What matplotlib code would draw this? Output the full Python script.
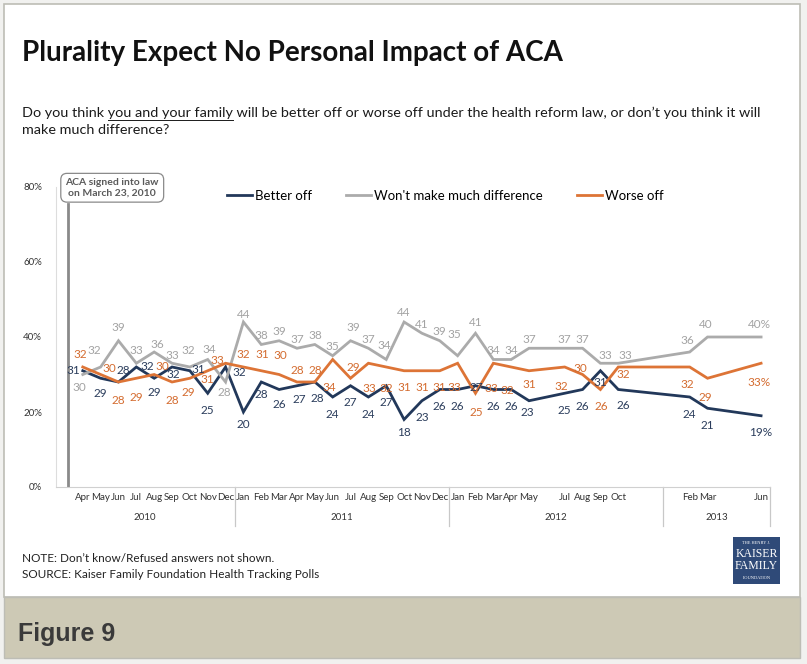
import matplotlib
matplotlib.use("Agg")
import matplotlib.pyplot as plt
from matplotlib.lines import Line2D
from matplotlib.patches import Rectangle
import matplotlib.transforms as mtransforms

plt.rcParams['font.family'] = ['Lato', 'DejaVu Sans']

# categories: Mar 2010 .. Jun 2013 (blank label = no poll that month)
months = ['',
          'Apr', 'May', 'Jun', 'Jul', 'Aug', 'Sep', 'Oct', 'Nov', 'Dec',
          'Jan', 'Feb', 'Mar', 'Apr', 'May', 'Jun', 'Jul', 'Aug', 'Sep', 'Oct', 'Nov', 'Dec',
          'Jan', 'Feb', 'Mar', 'Apr', 'May', '', 'Jul', 'Aug', 'Sep', 'Oct', '', '',
          '', 'Feb', 'Mar', '', '', 'Jun']
years = ['2010', '2011', '2012', '2013']
year_size = [10, 12, 12, 6]

N = None
better = [N,
          31, 29, 28, 32, 29, 32, 31, 25, 32,
          20, 28, 26, 27, 28, 24, 27, 24, 27, 18, 23, 26,
          26, 27, 26, 26, 23, N, 25, 26, 31, 26, N, N,
          N, 24, 21, N, N, 19]
wont = [N,
        30, 32, 39, 33, 36, 33, 32, 34, 28,
        44, 38, 39, 37, 38, 35, 39, 37, 34, 44, 41, 39,
        35, 41, 34, 34, 37, N, 37, 37, 33, 33, N, N,
        N, 36, 40, N, N, 40]
worse = [N,
         32, 30, 28, 29, 30, 28, 29, 31, 33,
         32, 31, 30, 28, 28, 34, 29, 33, 32, 31, 31, 31,
         33, 25, 33, 32, 31, N, 32, 30, 26, 32, N, N,
         N, 32, 29, N, N, 33]

NAVY = '#22385a'
GRAY = '#ababab'
ORANGE = '#dd7436'

# label offsets in pixels: default per series, plus a few tweaks by index
series = [
    ('Better off', better, NAVY, '#2b3d5c', (0, -17),
     {1: (-9, 0), 2: (0, -15), 3: (5, 12), 4: (11, 0), 5: (0, -14), 6: (1, -8), 7: (8, 1),
      9: (14, -5), 10: (0, -13), 11: (0, -13), 12: (0, -15), 13: (2, -14), 14: (2, -16),
      19: (0, -13), 23: (1, -2), 26: (-2, -12), 30: (0, -12), 31: (5, -16)}),
    ("Won't make much difference", wont, GRAY, '#a3a3a3', (0, 9),
     {1: (-3, -13), 2: (-6, 17), 3: (0, 13), 4: (0, 13), 5: (3, 7), 6: (0, 8), 7: (-2, 17),
      8: (2, 10), 9: (-1, -11), 10: (0, 7), 16: (3, 13), 18: (-2, 14), 22: (-3, 21),
      23: (0, 11), 30: (5, 8), 31: (7, 8), 35: (-2, 12), 36: (-2, 12), 39: (-2, 12)}),
    ('Worse off', worse, ORANGE, '#d46c30', (0, -17),
     {1: (-3, 12), 2: (9, 6), 3: (0, -18), 4: (0, -19), 5: (8, 8), 6: (0, -18), 7: (-2, -14),
      8: (0, -9), 9: (-8, 3), 10: (0, 12), 11: (1, 16), 12: (1, 19), 13: (0, 12), 14: (0, 12),
      15: (-3, -28), 16: (3, 11), 17: (1, -25), 18: (0, -21), 22: (-3, -24), 23: (1, -19),
      24: (-2, -25), 25: (-4, -23), 26: (0, -14), 28: (-3, -20), 29: (-2, 6), 30: (1, -17),
      31: (5, -8), 35: (-2, -18), 36: (-2, -19), 39: (-2, -19)}),
]

fig = plt.figure(figsize=(8.07, 6.64), dpi=100)
W, H = 807, 664

# frame and "Figure 9" band
fig.patches.append(Rectangle((0, 0), 1, 1, transform=fig.transFigure, facecolor='#f1f1ef', edgecolor='none', zorder=-10))
fig.patches.append(Rectangle((4 / W, 1 - 597 / H), 796 / W, 593 / H, transform=fig.transFigure,
                             facecolor='white', edgecolor='#bdbdb5', lw=1.2, zorder=-9))
fig.patches.append(Rectangle((4 / W, 1 - 658 / H), 796 / W, 61 / H, transform=fig.transFigure,
                             facecolor='#cdc9b5', edgecolor='#bdbdb5', lw=1, zorder=-9))
fig.text(18 / W, 1 - 641 / H, 'Figure 9', fontsize=18, fontweight='bold', color='#3a3a3a',
         family=['Liberation Sans', 'DejaVu Sans'], va='baseline')

renderer = fig.canvas.get_renderer()

def text_width(s, **kw):
    t = fig.text(0, 0, s, **kw)
    w = t.get_window_extent(renderer).width
    t.remove()
    return w

fig.text(22 / W, 1 - 61 / H, 'Plurality Expect No Personal Impact of ACA', fontsize=20,
         fontweight='bold', color='#111111', va='baseline')

sub_kw = dict(fontsize=10.4, color='#1a1a1a')
line1 = "Do you think you and your family will be better off or worse off under the health reform law, or don\u2019t you think it will"
fig.text(22 / W, 1 - 117 / H, line1, va='baseline', **sub_kw)
fig.text(22 / W, 1 - 134 / H, 'make much difference?', va='baseline', **sub_kw)
u0 = text_width('Do you think y', **sub_kw) - text_width('y', **sub_kw)
u1 = u0 + text_width('you and your family', **sub_kw)
fig.add_artist(Line2D([(22 + u0) / W, (22 + u1) / W], [1 - 120 / H, 1 - 120 / H],
                      transform=fig.transFigure, color='#1a1a1a', lw=0.7))

note_kw = dict(fontsize=8.5, color='#222222', va='baseline')
fig.text(22 / W, 1 - 562 / H, 'NOTE: Don\u2019t know/Refused answers not shown.', **note_kw)
fig.text(22 / W, 1 - 578 / H, 'SOURCE: Kaiser Family Foundation Health Tracking Polls', **note_kw)

# logo
fig.patches.append(Rectangle((733 / W, 1 - 584 / H), 47 / W, 47 / H, transform=fig.transFigure,
                             facecolor='#2f4a78', edgecolor='none'))
logo_kw = dict(color='white', ha='center', va='center', family=['Liberation Serif', 'DejaVu Serif'])
fig.text(756.5 / W, 1 - 543 / H, 'THE HENRY J.', fontsize=3.2, **logo_kw)
fig.text(756.5 / W, 1 - 554 / H, 'KAISER', fontsize=8.5, **logo_kw)
fig.text(756.5 / W, 1 - 566 / H, 'FAMILY', fontsize=8.5, **logo_kw)
fig.text(756.5 / W, 1 - 578 / H, 'FOUNDATION', fontsize=3.2, **logo_kw)

# chart
ax = fig.add_axes([56 / W, 1 - 487 / H, 714 / W, 300 / H])
x_all = list(range(len(months)))
for name, vals, col, lcol, dflt, tweaks in series:
    xs = [i for i in x_all if vals[i] is not None]
    ys = [vals[i] for i in xs]
    ax.plot(xs, ys, color=col, lw=2, solid_joinstyle='miter', zorder=3)
    for i, v in zip(xs, ys):
        dx, dy = tweaks.get(i, dflt)
        txt = str(v) + ('%' if i == xs[-1] else '')
        ax.annotate(txt, (i, v), xytext=(dx, dy), textcoords='offset pixels',
                    ha='center', va='center', fontsize=8.5, color=lcol, zorder=4)

ax.set_xlim(-0.5, len(months) - 0.5)
ax.set_ylim(0, 80)
ax.set_yticks([0, 20, 40, 60, 80])
ax.set_yticklabels(['0%', '20%', '40%', '60%', '80%'], fontsize=7, color='#333333')
ax.set_xticks(x_all)
ax.set_xticklabels(months, fontsize=7, color='#333333')
ax.tick_params(length=0)
ax.tick_params(axis='y', pad=10)
ax.tick_params(axis='x', pad=4)
for s in ['top', 'right']:
    ax.spines[s].set_visible(False)
ax.spines['bottom'].set_color('#d0d0d0')
ax.spines['left'].set_color('#dddddd')
ax.spines['left'].set_linewidth(0.8)

# year groups under the axis
trans = mtransforms.blended_transform_factory(ax.transData, ax.transAxes)
start = -0.5
for yr, n in zip(years, year_size):
    end = start + n
    if start > -0.5:
        ax.plot([start, start], [0, -0.13], transform=trans, color='#c8c8c8', lw=0.9, clip_on=False)
    ax.text((start + end) / 2, -0.1, yr, transform=trans, ha='center', va='center',
            fontsize=7, color='#333333')
    start = end
ax.plot([start, start], [0, -0.13], transform=trans, color='#c8c8c8', lw=0.9, clip_on=False)

# ACA signing marker
ax.axvline(0.2, ymin=0, ymax=75.5 / 80, color='#8a8a8a', lw=2, zorder=2)
ax.text(2.65, 79.8, 'ACA signed into law\non March 23, 2010', ha='center', va='center',
        fontsize=7.5, fontweight='bold', color='#5a5a5a', linespacing=1.2, clip_on=False,
        bbox=dict(boxstyle='round,pad=0.45,rounding_size=0.6', facecolor='white',
                  edgecolor='#8a8a8a', lw=0.9), zorder=5)

handles = [Line2D([], [], color=c, lw=2) for _, _, c, _, _, _ in series]
ax.legend(handles, [s[0] for s in series], loc='center', bbox_to_anchor=(0.545, 0.97),
          ncol=3, frameon=False, fontsize=9.5, handlelength=1.9, handletextpad=0.2,
          columnspacing=2.6)

fig.savefig('out.png', dpi=100)
